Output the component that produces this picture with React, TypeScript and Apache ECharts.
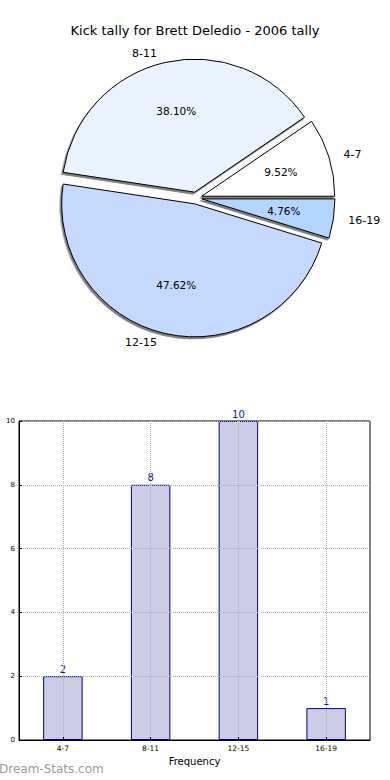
import React, { useEffect, useRef } from "react";
import * as echarts from "echarts";

const titleText = "Kick tally for Brett Deledio - 2006 tally";
const categories = ["4-7", "8-11", "12-15", "16-19"];
const counts = [2, 8, 10, 1];
const sliceColors = ["#ffffff", "#eaf1ff", "#c5d8ff", "#b4d5ff"];
const yTicks = { min: 0, max: 10, interval: 2 };
const xAxisName = "Frequency";
const yAxisName = "Occurrences";
const watermark = "Dream-Stats.com";

const FONT = "DejaVu Sans";

export default function App() {
  const ref = useRef<HTMLDivElement>(null);
  useEffect(() => {
    if (!ref.current) return;
    const chart = echarts.init(ref.current, null, { renderer: "svg" });
    const R = 133;
    const pieData = categories.map((c, i) => ({
      name: c,
      value: counts[i],
      selected: true,
      itemStyle: { color: sliceColors[i] },
    }));
    const overlayData = categories.map((c, i) => ({
      name: c,
      value: counts[i],
      selected: true,
    }));
    chart.setOption({
      animation: false,
      backgroundColor: "#ffffff",
      textStyle: { fontFamily: FONT },
      title: {
        text: titleText,
        left: "center",
        top: 19,
        textStyle: { fontFamily: FONT, fontSize: 13, fontWeight: "normal", color: "#000" },
      },
      graphic: [
        {
          type: "text",
          left: -1,
          top: 763,
          style: { text: watermark, fontFamily: FONT, fontSize: 12, fill: "#9a9a9a" },
        },
      ],
      grid: {
        left: 19,
        top: 421,
        right: 20,
        bottom: 40,
        show: true,
        borderColor: "#000",
        borderWidth: 1,
        containLabel: false,
        outerBoundsMode: "none",
      },
      xAxis: {
        type: "category",
        data: categories,
        z: 3,
        name: xAxisName,
        nameLocation: "middle",
        nameGap: 16,
        nameTextStyle: { fontFamily: FONT, fontSize: 10, color: "#000" },
        axisLine: { lineStyle: { color: "#000" } },
        axisTick: { show: true, alignWithLabel: true, inside: true, length: 3, lineStyle: { color: "#000" } },
        axisLabel: { fontFamily: FONT, fontSize: 7.5, color: "#000", margin: 4 },
        splitLine: {
          show: true,
          alignWithLabel: true,
          showMinLine: true,
          showMaxLine: true,
          lineStyle: { type: "dotted", color: "#b0b0b0" },
        },
      },
      yAxis: {
        type: "value",
        min: yTicks.min,
        max: yTicks.max,
        interval: yTicks.interval,
        z: 3,
        name: yAxisName,
        nameLocation: "middle",
        nameGap: 23,
        nameTextStyle: { fontFamily: FONT, fontSize: 10, color: "#000" },
        axisLine: { show: true, lineStyle: { color: "#000" } },
        axisTick: { show: true, inside: true, length: 3, lineStyle: { color: "#000" } },
        axisLabel: { fontFamily: FONT, fontSize: 7, color: "#000", margin: 4 },
        splitLine: { show: true, lineStyle: { type: "dotted", color: "#b0b0b0" } },
      },
      series: [
        {
          type: "pie",
          center: [196, 198],
          radius: [0, R],
          startAngle: 0,
          clockwise: false,
          selectedMode: "multiple",
          selectedOffset: 6,
          avoidLabelOverlap: false,
          silent: true,
          itemStyle: {
            borderColor: "#000",
            borderWidth: 1,
            shadowColor: "rgba(0,0,0,0.5)",
            shadowOffsetX: -1.5,
            shadowOffsetY: 2,
            shadowBlur: 0,
          },
          select: { itemStyle: { borderColor: "#000", borderWidth: 1 } },
          label: {
            show: true,
            position: "outside",
            formatter: "{b}",
            fontFamily: FONT,
            fontSize: 11,
            color: "#000",
            distanceToLabelLine: 0,
          },
          labelLine: { show: false, length: 9, length2: 6 },
          data: pieData,
        },
        {
          type: "pie",
          center: [196, 198],
          radius: [0.2 * R, R],
          startAngle: 0,
          clockwise: false,
          selectedMode: "multiple",
          selectedOffset: 6,
          avoidLabelOverlap: false,
          silent: true,
          itemStyle: { color: "rgba(0,0,0,0)", borderWidth: 0 },
          select: { itemStyle: { color: "rgba(0,0,0,0)", borderWidth: 0 } },
          label: {
            show: true,
            position: "inside",
            formatter: (p: any) => `${Number(p.percent).toFixed(2)}%`,
            fontFamily: FONT,
            fontSize: 10.5,
            color: "#000",
          },
          labelLine: { show: false },
          data: overlayData,
        },
        {
          type: "bar",
          data: counts,
          barWidth: "45%",
          itemStyle: { color: "#ccccE6", borderColor: "#000088", borderWidth: 1 },
          label: {
            show: true,
            position: "top",
            distance: 2,
            fontFamily: FONT,
            fontSize: 10,
            color: "#1a1aa0",
          },
        },
      ],
    });
    return () => chart.dispose();
  }, []);
  return (
    <div
      ref={ref}
      style={{ position: "fixed", left: 0, top: 0, width: 390, height: 780 }}
    />
  );
}
